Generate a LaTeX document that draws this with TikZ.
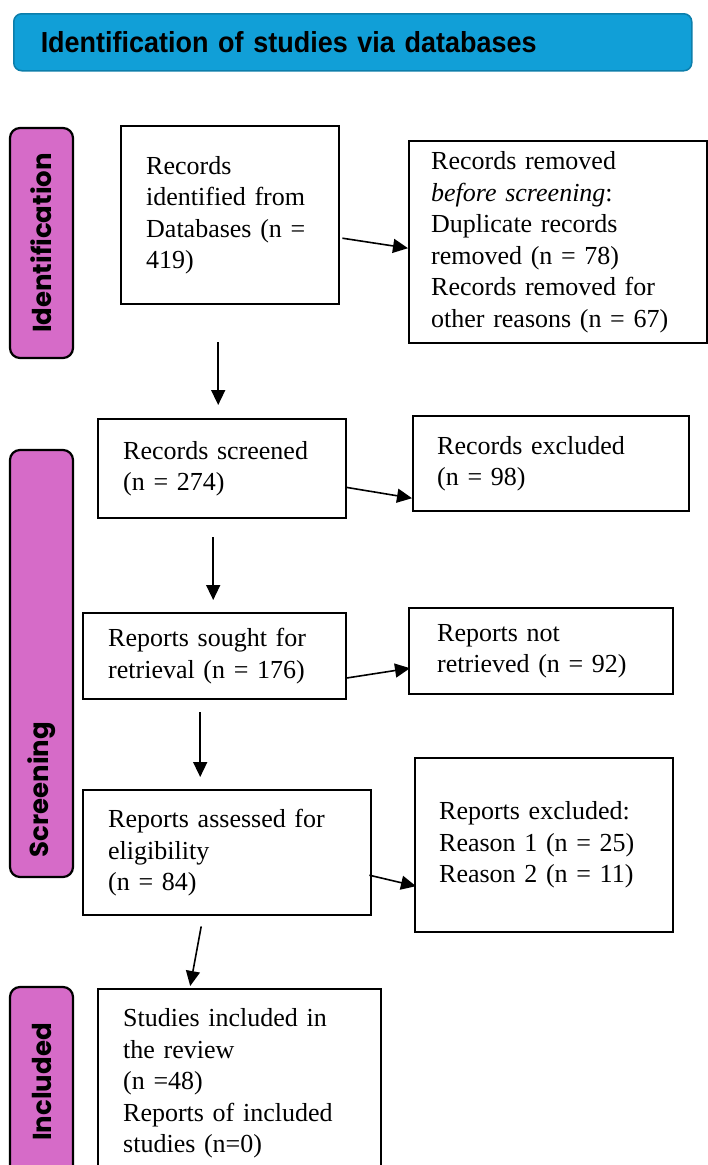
\documentclass[tikz,border=0pt]{standalone}
\usepackage{fontspec}
\setmainfont{Liberation Serif}
\newfontfamily\headfont[FakeStretch=0.93]{Liberation Sans}
\newfontfamily\phasefont{Poppins}
\usepackage{tikz}
\usetikzlibrary{arrows.meta, positioning, calc}
\definecolor{headblue}{HTML}{119FD7}
\definecolor{headedge}{HTML}{0C7EAB}
\definecolor{phasepink}{HTML}{D66BC8}

\begin{document}
\begin{tikzpicture}[
  x=1pt, y=-1pt,
  box/.style={rectangle, draw=black, line width=2.4pt, align=left, anchor=north west, inner ysep=0pt, font=\fontsize{26}{31.5}\selectfont},
  header/.style={rectangle, draw=headedge, line width=1.5pt, rounded corners=8pt, fill=headblue, anchor=north west, align=left, minimum height=57pt, text width=624pt, inner xsep=27pt, font=\headfont\bfseries\fontsize{29}{30}\selectfont},
  phase/.style={rectangle, draw=black, line width=2.2pt, rounded corners=10pt, fill=phasepink, rotate=90, minimum height=63pt, inner sep=0pt, font=\phasefont\bfseries\fontsize{26}{30}\selectfont},
  phasetext/.style={rotate=90, inner sep=0pt, font=\phasefont\bfseries\fontsize{26}{30}\selectfont},
  arrow/.style={-{Triangle[length=15pt, width=14pt]}, line width=1.6pt}
]
  \useasboundingbox (0,0) rectangle (708,1165);

  \node[header] (head) at (13,13) {Identification of studies via databases};

  \node[phase, minimum width=230pt] (idphase) at (41.5,243) {Identification};
  \node[phase, minimum width=427pt] (screenphase) at (41.5,663.5) {};
  \node[phasetext] (screentext) at ([shift={(0,126)}]screenphase.center) {Screening};
  \node[phase, minimum width=190pt] (inclphase) at (41.5,1082) {Included};

  \node[box, text width=168pt, inner xsep=25pt, minimum height=178pt] (identified) at (120,125) {Records\\identified from\\Databases (n =\\419)};
  \node[box, text width=254pt, inner xsep=22pt, minimum height=202pt] (removed) at (408,140) {Records removed\\\textit{before screening}:\\Duplicate records\\removed (n = 78)\\Records removed for\\other reasons (n = 67)};

  \node[box, text width=198pt, inner xsep=25pt, minimum height=99pt] (screened) at (97,418) {Records screened\\(n = 274)};
  \node[box, text width=228pt, inner xsep=24pt, minimum height=95pt] (excluded) at (412,415) {Records excluded\\(n = 98)};

  \node[box, text width=213pt, inner xsep=25pt, minimum height=86pt] (sought) at (82,612) {Reports sought for\\retrieval (n = 176)};
  \node[box, text width=208pt, inner xsep=28pt, minimum height=86pt] (notretrieved) at (408,607) {Reports not\\retrieved (n = 92)};

  \node[box, text width=238pt, inner xsep=25pt, minimum height=125pt] (assessed) at (82,789) {Reports assessed for\\eligibility\\(n = 84)};
  \node[box, text width=210pt, inner xsep=24pt, minimum height=174pt] (repexcluded) at (414,757) {Reports excluded:\\Reason 1 (n = 25)\\Reason 2 (n = 11)};

  \node[box, text width=233pt, inner xsep=25pt, minimum height=189pt] (included) at (97,988) {Studies included in\\the review\\(n =48)\\Reports of included\\studies (n=0)};

  \draw[arrow] ([shift={(2,23)}]identified.east) -- ([shift={(0,6)}]removed.west);
  \draw[arrow] ([shift={(-12,37)}]identified.south) -- ([shift={(-4,-13)}]screened.north);
  \draw[arrow] ([shift={(-2,18.5)}]screened.east) -- ([shift={(0,34.5)}]excluded.west);
  \draw[arrow] ([shift={(-9,18)}]screened.south) -- ([shift={(-1.5,-12)}]sought.north);
  \draw[arrow] ([shift={(-2,22)}]sought.east) -- ([shift={(2,17)}]notretrieved.west);
  \draw[arrow] ([shift={(-14.5,12)}]sought.south) -- ([shift={(-27,-12)}]assessed.north);
  \draw[arrow] ([shift={(-3,22.5)}]assessed.east) -- ([shift={(2,41)}]repexcluded.west);
  \draw[arrow] ([shift={(-26,10)}]assessed.south) -- ([shift={(-49.5,-2)}]included.north);
\end{tikzpicture}
\end{document}
